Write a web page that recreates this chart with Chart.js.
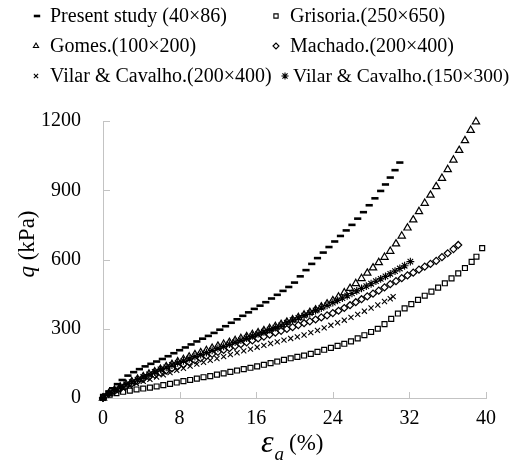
<!DOCTYPE html>
<html>
<head>
<meta charset="utf-8">
<script src="https://cdn.jsdelivr.net/npm/chart.js@4"></script>
<style>
  html, body { margin: 0; padding: 0; background: #fff; }
  #wrap { width: 516px; height: 464px; }
</style>
</head>
<body>
<div id="wrap"><canvas id="q-chart" width="516" height="464"></canvas></div>
<script>
// axis ticks
var xTicks = [0, 8, 16, 24, 32, 40];
var yTicks = [0, 300, 600, 900, 1200];

var seriesNames = [
	'Present study (40\u00d786)',
	'Grisoria.(250\u00d7650)',
	'Gomes.(100\u00d7200)',
	'Machado.(200\u00d7400)',
	'Vilar & Cavalho.(200\u00d7400)',
	'Vilar & Cavalho.(150\u00d7300)'
];

// Present study (40x86)
var presentX = [0, 0.3, 0.6, 1.0, 1.5, 2.0, 2.6, 3.2, 3.8, 4.4, 5.0, 5.6, 6.2, 6.8, 7.4, 8.0, 8.6, 9.2, 9.8, 10.4, 11.0, 11.6, 12.2, 12.8, 13.4, 14.0, 14.6, 15.2, 15.8, 16.4, 17.0, 17.6, 18.2, 18.8, 19.4, 20.0, 20.6, 21.2, 21.8, 22.4, 23.0, 23.6, 24.2, 24.8, 25.4, 26.0, 26.6, 27.2, 27.8, 28.4, 29.0, 29.5, 30.0, 30.5, 31.0];
var presentQ = [0, 15, 28, 42, 60, 78, 97, 112, 125, 137, 148, 158, 169, 181, 194, 207, 219, 232, 245, 257, 269, 282, 296, 311, 326, 341, 356, 371, 386, 400, 415, 431, 447, 464, 481, 500, 527, 554, 581, 606, 630, 654, 678, 702, 726, 750, 777, 805, 835, 865, 897, 925, 955, 987, 1020];

// Grisoria (250x650)
var grisoriaX = [0, 0.7, 1.4, 2.1, 2.8, 3.5, 4.2, 4.9, 5.6, 6.3, 7.0, 7.7, 8.4, 9.1, 9.8, 10.5, 11.2, 11.9, 12.6, 13.3, 14.0, 14.7, 15.4, 16.1, 16.8, 17.5, 18.2, 18.9, 19.6, 20.3, 21.0, 21.7, 22.4, 23.1, 23.8, 24.5, 25.2, 25.9, 26.6, 27.3, 28.0, 28.7, 29.4, 30.1, 30.8, 31.5, 32.2, 32.9, 33.6, 34.3, 35.0, 35.7, 36.4, 37.1, 37.8, 38.5, 39.0, 39.6];
var grisoriaQ = [5, 14, 21, 27, 32, 37, 41, 45, 50, 56, 61, 67, 73, 78, 84, 90, 95, 101, 107, 113, 119, 125, 131, 137, 144, 151, 158, 165, 172, 178, 184, 191, 200, 209, 217, 226, 235, 245, 258, 272, 286, 300, 320, 343, 366, 388, 407, 425, 443, 461, 478, 497, 518, 540, 563, 590, 612, 649];

// Gomes (100x200)
var gomesX = [0, 0.6, 1.2, 1.8, 2.4, 3.0, 3.6, 4.2, 4.8, 5.4, 6.0, 6.6, 7.2, 7.8, 8.4, 9.0, 9.6, 10.2, 10.8, 11.4, 12.0, 12.6, 13.2, 13.8, 14.4, 15.0, 15.6, 16.2, 16.8, 17.4, 18.0, 18.6, 19.2, 19.8, 20.4, 21.0, 21.6, 22.2, 22.8, 23.4, 24.0, 24.6, 25.2, 25.8, 26.4, 27.0, 27.6, 28.2, 28.8, 29.4, 30.0, 30.6, 31.2, 31.8, 32.4, 33.0, 33.6, 34.2, 34.8, 35.4, 36.0, 36.6, 37.2, 37.8, 38.4, 38.95];
var gomesQ = [0, 20, 35, 48, 60, 71, 82, 93, 104, 114, 125, 136, 146, 157, 167, 178, 188, 197, 206, 216, 225, 233, 241, 249, 258, 266, 275, 283, 292, 301, 310, 319, 329, 339, 349, 360, 371, 382, 395, 408, 422, 438, 456, 475, 496, 518, 541, 564, 587, 610, 636, 668, 702, 737, 772, 808, 844, 879, 916, 952, 990, 1031, 1073, 1115, 1160, 1197];

// Machado (200x400)
var machadoX = [0, 0.6, 1.2, 1.8, 2.4, 3.0, 3.6, 4.2, 4.8, 5.4, 6.0, 6.6, 7.2, 7.8, 8.4, 9.0, 9.6, 10.2, 10.8, 11.4, 12.0, 12.6, 13.2, 13.8, 14.4, 15.0, 15.6, 16.2, 16.8, 17.4, 18.0, 18.6, 19.2, 19.8, 20.4, 21.0, 21.6, 22.2, 22.8, 23.4, 24.0, 24.6, 25.2, 25.8, 26.4, 27.0, 27.6, 28.2, 28.8, 29.4, 30.0, 30.6, 31.2, 31.8, 32.4, 33.0, 33.6, 34.2, 34.8, 35.4, 36.0, 36.6, 37.1];
var machadoQ = [0, 18, 30, 41, 52, 62, 73, 83, 92, 101, 110, 119, 128, 137, 146, 155, 164, 173, 182, 191, 200, 208, 216, 225, 233, 241, 249, 258, 266, 274, 283, 291, 299, 307, 316, 324, 332, 340, 349, 358, 368, 378, 390, 402, 415, 428, 440, 452, 465, 479, 493, 506, 519, 531, 543, 556, 569, 581, 594, 610, 627, 645, 663];

// Vilar & Cavalho (200x400)
var vilar200X = [0, 0.7, 1.4, 2.1, 2.8, 3.5, 4.2, 4.9, 5.6, 6.3, 7.0, 7.7, 8.4, 9.1, 9.8, 10.5, 11.2, 11.9, 12.6, 13.3, 14.0, 14.7, 15.4, 16.1, 16.8, 17.5, 18.2, 18.9, 19.6, 20.3, 21.0, 21.7, 22.4, 23.1, 23.8, 24.5, 25.2, 25.9, 26.6, 27.3, 28.0, 28.7, 29.4, 30.0, 30.3];
var vilar200Q = [0, 18, 30, 41, 52, 62, 72, 81, 91, 100, 110, 120, 129, 138, 147, 155, 163, 171, 179, 188, 196, 204, 212, 220, 228, 236, 243, 251, 258, 265, 273, 283, 293, 304, 315, 326, 337, 349, 362, 376, 390, 403, 418, 430, 439];

// Vilar & Cavalho (150x300)
var vilar150X = [0, 0.6, 1.2, 1.8, 2.4, 3.0, 3.6, 4.2, 4.8, 5.4, 6.0, 6.6, 7.2, 7.8, 8.4, 9.0, 9.6, 10.2, 10.8, 11.4, 12.0, 12.6, 13.2, 13.8, 14.4, 15.0, 15.6, 16.2, 16.8, 17.4, 18.0, 18.6, 19.2, 19.8, 20.4, 21.0, 21.6, 22.2, 22.8, 23.4, 24.0, 24.5, 25.0, 25.5, 26.0, 26.5, 27.0, 27.5, 28.0, 28.5, 29.0, 29.5, 30.0, 30.5, 31.0, 31.5, 32.1];
var vilar150Q = [0, 20, 33, 47, 59, 69, 80, 91, 102, 113, 124, 133, 143, 152, 161, 170, 179, 188, 197, 206, 215, 224, 233, 242, 251, 260, 269, 278, 287, 296, 305, 315, 326, 337, 347, 357, 368, 379, 390, 401, 413, 423, 433, 443, 453, 464, 475, 485, 495, 506, 516, 527, 538, 550, 561, 573, 591];

var serif = '"Liberation Serif", "Times New Roman", serif';
var axisGrey = '#c3c3c3';

function pairs(xs, ys) {
	return xs.map(function (x, i) { return { x: x, y: ys[i] }; });
}

function series(label, xs, ys, style, radius, width) {
	return {
		label: label,
		data: pairs(xs, ys),
		showLine: false,
		clip: false,
		pointStyle: style,
		pointRadius: radius,
		pointHoverRadius: radius,
		pointBorderWidth: width,
		pointBorderColor: '#000',
		pointBackgroundColor: 'rgba(0,0,0,0)',
		borderColor: '#000',
		backgroundColor: 'rgba(0,0,0,0)'
	};
}

var datasets = [
	series(seriesNames[0], presentX, presentQ, 'line', 3.6, 2.6),
	series(seriesNames[1], grisoriaX, grisoriaQ, 'rect', 3.5, 1.2),
	series(seriesNames[2], gomesX, gomesQ, 'triangle', 4.2, 1.2),
	series(seriesNames[3], machadoX, machadoQ, 'rectRot', 3.5, 1.2),
	series(seriesNames[4], vilar200X, vilar200Q, 'crossRot', 3.6, 1.1),
	series(seriesNames[5], vilar150X, vilar150Q, 'star', 3.9, 1.1)
];

// legend, inward tick marks and axis titles
var decorPlugin = {
	id: 'decor',
	afterDraw: function (chart) {
		var ctx = chart.ctx;
		var xs = chart.scales.x, ys = chart.scales.y;
		var area = chart.chartArea;

		ctx.save();
		ctx.strokeStyle = axisGrey;
		ctx.lineWidth = 1;
		ctx.beginPath();
		xTicks.forEach(function (t) {
			if (t === 0) return;
			var px = Math.round(xs.getPixelForValue(t)) + 0.5;
			ctx.moveTo(px, area.bottom);
			ctx.lineTo(px, area.bottom - 6);
		});
		yTicks.forEach(function (t) {
			if (t === 0) return;
			var py = Math.round(ys.getPixelForValue(t)) + 0.5;
			ctx.moveTo(area.left, py);
			ctx.lineTo(area.left + 7, py);
		});
		ctx.stroke();

		// legend
		var markX = [37, 276, 36, 276, 36, 285];
		var textX = [50, 290, 50, 290, 50, 293];
		var rows = [16, 46, 76];
		ctx.textBaseline = 'middle';
		ctx.textAlign = 'left';
		chart.data.datasets.forEach(function (ds, i) {
			var r = Math.floor(i / 2);
			ctx.strokeStyle = '#000';
			ctx.fillStyle = 'rgba(0,0,0,0)';
			ctx.lineWidth = ds.pointStyle === 'line' ? 2.6 : 1.1;
			Chart.helpers.drawPoint(ctx, {
				pointStyle: ds.pointStyle,
				radius: ds.pointStyle === 'line' ? 3.2 : (ds.pointStyle === 'star' ? 3.6 : 3),
				borderWidth: ctx.lineWidth,
				rotation: 0
			}, markX[i], rows[r]);
			ctx.fillStyle = '#000';
			ctx.font = (i === 5 ? '19.5px ' : '20px ') + serif;
			ctx.fillText(ds.label, textX[i], rows[r] + 1);
		});

		// y title: q (kPa)
		ctx.save();
		ctx.translate(28, 244);
		ctx.rotate(-Math.PI / 2);
		ctx.textBaseline = 'middle';
		ctx.textAlign = 'left';
		ctx.font = 'italic 23px ' + serif;
		var qW = ctx.measureText('q').width;
		ctx.font = '23px ' + serif;
		var restW = ctx.measureText(' (kPa)').width;
		var sx = -(qW + restW) / 2;
		ctx.font = 'italic 23px ' + serif;
		ctx.fillText('q', sx, 0);
		ctx.font = '23px ' + serif;
		ctx.fillText(' (kPa)', sx + qW, 0);
		ctx.restore();

		// x title: εa(%)
		ctx.fillStyle = '#000';
		ctx.textBaseline = 'alphabetic';
		ctx.textAlign = 'left';
		ctx.font = 'italic 32px ' + serif;
		ctx.fillText('\u03b5', 261, 452);
		var eW = ctx.measureText('\u03b5').width;
		ctx.font = 'italic 19px ' + serif;
		ctx.fillText('a', 261 + eW + 1, 460);
		ctx.font = '23px ' + serif;
		ctx.fillText('(%)', 289, 450);
		ctx.restore();
	}
};

var qChart = new Chart(document.getElementById('q-chart'), {
	type: 'scatter',
	data: { datasets: datasets },
	options: {
		responsive: false,
		animation: false,
		events: [],
		layout: { padding: { top: 121, right: 30, left: 0, bottom: 0 } },
		plugins: {
			legend: { display: false },
			tooltip: { enabled: false }
		},
		scales: {
			x: {
				type: 'linear',
				min: 0,
				max: 40,
				afterBuildTicks: function (scale) {
					scale.ticks = xTicks.map(function (v) { return { value: v }; });
				},
				afterFit: function (scale) { scale.height = 66; },
				grid: { display: false, drawTicks: false },
				border: { display: true, color: axisGrey, width: 1 },
				ticks: {
					padding: 9,
					color: '#000',
					font: { family: serif, size: 20 },
					callback: function (v) { return String(v); }
				}
			},
			y: {
				type: 'linear',
				min: 0,
				max: 1200,
				afterBuildTicks: function (scale) {
					scale.ticks = yTicks.map(function (v) { return { value: v }; });
				},
				afterFit: function (scale) { scale.width = 103; },
				grid: { display: false, drawTicks: false },
				border: { display: true, color: axisGrey, width: 1 },
				ticks: {
					padding: 22,
					color: '#000',
					font: { family: serif, size: 20 },
					callback: function (v) { return String(v); }
				}
			}
		}
	},
	plugins: [decorPlugin]
});
</script>
</body>
</html>
